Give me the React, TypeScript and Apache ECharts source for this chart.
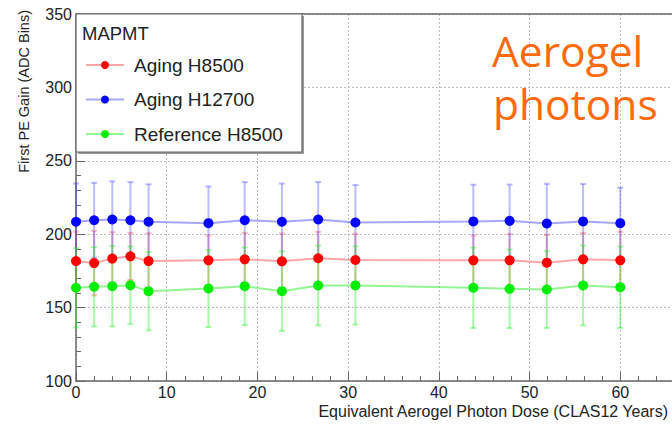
import React, { useEffect, useRef } from "react";
import * as echarts from "echarts";

const doses = [0, 2, 4, 6, 8, 14.6, 18.6, 22.7, 26.7, 30.8, 43.8, 47.8, 51.9, 55.9, 60];
const agingH8500 = [181.7, 180.3, 183.4, 184.9, 181.7, 182.2, 182.9, 181.5, 183.6, 182.4, 182.2, 182.2, 180.6, 182.9, 182.2];
const agingH8500Err = [20, 22, 18, 16, 19, 17, 18, 19, 18, 18, 17, 18, 19, 18, 19.5];
const agingH12700 = [208.5, 209.5, 210, 209.5, 208.5, 207.5, 209.5, 208.5, 210, 208, 208.7, 209.1, 207.3, 208.7, 207.5];
const agingH12700Err = [26, 25.5, 26, 26, 25.5, 25, 26, 26, 25.5, 25.5, 25, 24.7, 27, 25.5, 24.2];
const referenceH8500 = [163.5, 164.2, 164.6, 165.3, 161.2, 163, 164.6, 161.2, 165.1, 165.1, 163.5, 162.8, 162.3, 165.1, 163.9];
const referenceH8500Err = [27, 27, 27.4, 26.4, 26.7, 26.2, 26.5, 27.1, 27.2, 26.7, 27.4, 26.8, 26.2, 27.2, 27.8];

const seriesNames = ["Aging H8500", "Aging H12700", "Reference H8500"];
const legendTitle = "MAPMT";
const xTitle = "Equivalent Aerogel Photon Dose (CLAS12 Years)";
const yTitle = "First PE Gain (ADC Bins)";
const noteLines = ["Aerogel", "photons"];

const FONT = "'Liberation Sans', Arial, Helvetica, sans-serif";

function lineSeries(name: string, ys: number[], color: string, lineColor: string, size: number) {
  return {
    type: "line",
    name,
    data: doses.map((x, i) => [x, ys[i]]),
    symbol: "circle",
    symbolSize: size,
    itemStyle: { color },
    lineStyle: { color: lineColor, width: 2 },
    z: 3,
  };
}

function errSeries(ys: number[], errs: number[], color: string) {
  return {
    type: "custom",
    data: doses.map((x, i) => [x, ys[i] - errs[i], ys[i] + errs[i]]),
    encode: { x: 0, y: [1, 2] },
    z: 2,
    silent: true,
    renderItem: (params: any, api: any) => {
      const x = api.value(0);
      const lo = api.coord([x, api.value(1)]);
      const hi = api.coord([x, api.value(2)]);
      const style = { stroke: color, lineWidth: 2 };
      return {
        type: "group",
        children: [
          { type: "line", shape: { x1: hi[0], y1: hi[1], x2: lo[0], y2: lo[1] }, style },
          { type: "line", shape: { x1: hi[0] - 3, y1: hi[1], x2: hi[0] + 3, y2: hi[1] }, style },
          { type: "line", shape: { x1: lo[0] - 3, y1: lo[1], x2: lo[0] + 3, y2: lo[1] }, style },
        ],
      };
    },
  };
}

export default function App() {
  const ref = useRef<HTMLDivElement>(null);
  useEffect(() => {
    if (!ref.current) return;
    const chart = echarts.init(ref.current, null, { renderer: "svg" });
    const axisColor = "#666";
    chart.setOption({
      animation: false,
      backgroundColor: "#fff",
      grid: { left: 76, top: 14, right: 0, bottom: 45 },
      xAxis: {
        type: "value",
        min: 0,
        max: 65.7,
        interval: 10,
        axisLine: { show: true, lineStyle: { color: axisColor, width: 1.5 } },
        axisTick: { show: true, inside: true, length: 9, lineStyle: { color: axisColor } },
        minorTick: { show: true, splitNumber: 5, length: 5, lineStyle: { color: axisColor } },
        splitLine: { show: true, lineStyle: { color: "#bdbdbd", type: [2, 2], width: 1 } },
        axisLabel: { showMaxLabel: false, fontFamily: FONT, fontSize: 16, color: "#222", margin: 3 },
      },
      yAxis: {
        type: "value",
        min: 100,
        max: 350,
        interval: 50,
        axisLine: { show: true, lineStyle: { color: axisColor, width: 1.5 } },
        axisTick: { show: true, inside: true, length: 9, lineStyle: { color: axisColor } },
        minorTick: { show: true, splitNumber: 5, length: 5, lineStyle: { color: axisColor } },
        splitLine: { show: true, lineStyle: { color: "#bdbdbd", type: [2, 2], width: 1 } },
        axisLabel: { fontFamily: FONT, fontSize: 16, color: "#222", margin: 4 },
      },
      legend: {
        data: seriesNames,
        orient: "vertical",
        left: 80,
        top: 50,
        itemWidth: 38,
        itemHeight: 10,
        itemGap: 14.5,
        z: 6,
        textStyle: { fontFamily: FONT, fontSize: 19, color: "#222", lineHeight: 20, padding: [0, 0, 0, 5] },
      },
      graphic: [
        { type: "line", z: 1, shape: { x1: 76, y1: 14, x2: 672, y2: 14 }, style: { stroke: axisColor, lineWidth: 1.5 } },
        { type: "rect", z: 4, shape: { x: 78, y: 16, width: 226, height: 138 }, style: { fill: "#999" } },
        { type: "rect", z: 5, shape: { x: 76, y: 14, width: 226, height: 138 }, style: { fill: "#fff", stroke: axisColor, lineWidth: 1.2 } },
        { type: "text", z: 7, x: 82, y: 33, style: { text: legendTitle, font: `18.5px ${FONT}`, fill: "#222", textVerticalAlign: "middle" } },
        { type: "text", z: 7, x: 24, y: 10, rotation: Math.PI / 2, style: { text: yTitle, font: `14.5px ${FONT}`, fill: "#222", textAlign: "right", textVerticalAlign: "middle" } },
        { type: "text", z: 7, x: 668, y: 411, style: { text: xTitle, font: `16px ${FONT}`, fill: "#222", textAlign: "right", textVerticalAlign: "middle" } },
        { type: "text", z: 7, x: 492, y: 50, style: { text: noteLines[0], font: `42.5px 'Open Sans', sans-serif`, fill: "#ff6a0d", textVerticalAlign: "middle" } },
        { type: "text", z: 7, x: 493, y: 103, style: { text: noteLines[1], font: `42.5px 'Open Sans', sans-serif`, fill: "#ff6a0d", textVerticalAlign: "middle" } },
      ],
      series: [
        errSeries(agingH8500, agingH8500Err, "rgba(255,60,60,0.35)"),
        errSeries(agingH12700, agingH12700Err, "rgba(60,60,255,0.35)"),
        errSeries(referenceH8500, referenceH8500Err, "rgba(40,235,40,0.4)"),
        lineSeries(seriesNames[0], agingH8500, "#ff0000", "rgba(255,60,60,0.45)", 10),
        lineSeries(seriesNames[1], agingH12700, "#0000ff", "rgba(60,60,255,0.45)", 10),
        lineSeries(seriesNames[2], referenceH8500, "#00ee00", "rgba(40,235,40,0.5)", 10),
      ],
    });
    return () => chart.dispose();
  }, []);
  return <div ref={ref} style={{ width: 672, height: 426, position: "absolute", left: 0, top: 0 }} />;
}
